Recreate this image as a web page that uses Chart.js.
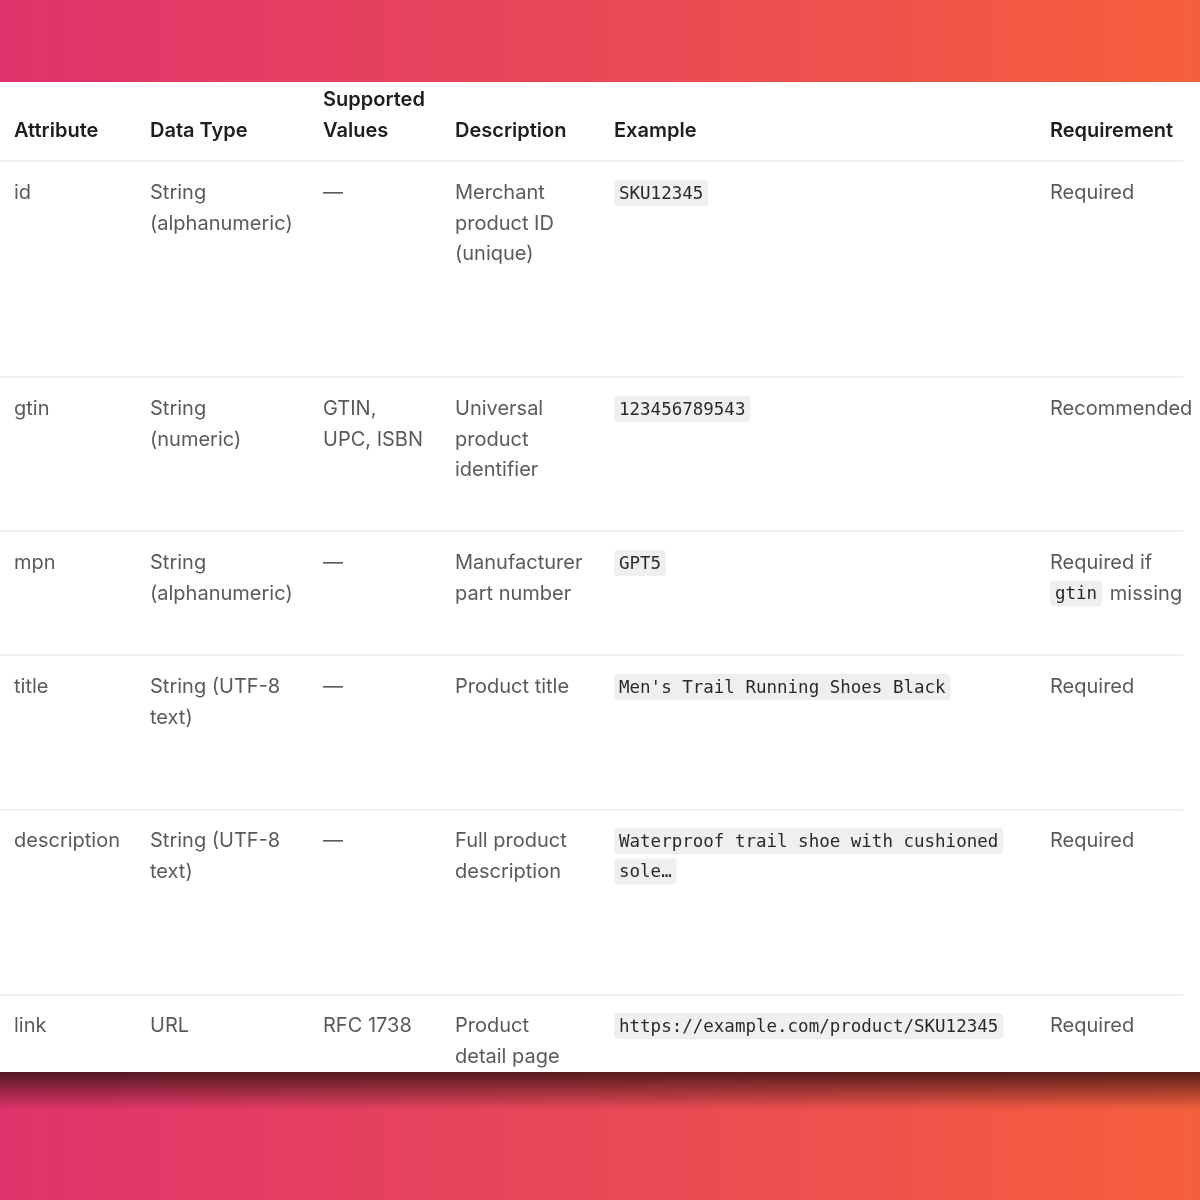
<!DOCTYPE html>
<html lang="en">
  <head>
    <meta charset="UTF-8" />
    <title>Product feed attributes</title>
    <script src="https://cdn.jsdelivr.net/npm/chart.js"></script>
    <style>
      body { margin: 0; background: #fff; }
      canvas { display: block; }
    </style>
  </head>
  <body>
    <canvas id="chart" width="1200" height="1200"></canvas>
    <script>
      // table content
      const headers = [['Attribute'], ['Data Type'], ['Supported', 'Values'], ['Description'], ['Example'], ['Requirement']];
      const attributes = [['id'], ['gtin'], ['mpn'], ['title'], ['description'], ['link']];
      const dataTypes = [['String', '(alphanumeric)'], ['String', '(numeric)'], ['String', '(alphanumeric)'], ['String (UTF-8', 'text)'], ['String (UTF-8', 'text)'], ['URL']];
      const supportedValues = [['—'], ['GTIN,', 'UPC, ISBN'], ['—'], ['—'], ['—'], ['RFC 1738']];
      const descriptions = [['Merchant', 'product ID', '(unique)'], ['Universal', 'product', 'identifier'], ['Manufacturer', 'part number'], ['Product title'], ['Full product', 'description'], ['Product', 'detail page']];
      const examples = [['`SKU12345`'], ['`123456789543`'], ['`GPT5`'], ["`Men's Trail Running Shoes Black`"], ['`Waterproof trail shoe with cushioned`', '`sole…`'], ['`https://example.com/product/SKU12345`']];
      const requirements = [['Required'], ['Recommended'], ['Required if', '`gtin` missing'], ['Required'], ['Required'], ['Required']];

      // layout (page pixels)
      const colX = [14, 150, 323, 455, 614, 1050];
      const rowY = [193, 409, 563, 687, 841, 1026];
      const sepY = [161, 377, 531, 655, 810, 995];
      const lineH = 30.5;
      const columns = [attributes, dataTypes, supportedValues, descriptions, examples, requirements];

      const SANS = 'Inter, "Noto Sans", sans-serif';
      const MONO = '"DejaVu Sans Mono", monospace';

      function drawLine(ctx, text, x, y, bold) {
        const parts = text.split('`');
        let cx = x;
        parts.forEach((p, i) => {
          if (!p) return;
          const code = i % 2 === 1;
          if (code) {
            ctx.font = '17.5px ' + MONO;
            const w = ctx.measureText(p).width;
            if (cx > x) cx += 2;
            ctx.fillStyle = '#efefef';
            ctx.beginPath();
            ctx.roundRect(cx, y - 13, w + 10, 26, 4);
            ctx.fill();
            ctx.fillStyle = '#2a2a2a';
            ctx.fillText(p, cx + 5, y + 1);
            cx += w + 12;
          } else {
            ctx.font = (bold ? '600 ' : '') + '20px ' + SANS;
            ctx.fillStyle = bold ? '#1e1e1e' : '#5a5a5a';
            ctx.fillText(p, cx, y);
            cx += ctx.measureText(p).width;
          }
        });
      }

      const tablePlugin = {
        id: 'table',
        beforeDraw(chart) {
          const { ctx, scales } = chart;
          const X = (v) => scales.x.getPixelForValue(v);
          const Y = (v) => scales.y.getPixelForValue(v);
          ctx.save();
          // top band
          let g = ctx.createLinearGradient(0, 0, 1200, 0);
          g.addColorStop(0, '#e0336c');
          g.addColorStop(0.55, '#ea4a55');
          g.addColorStop(1, '#f5603c');
          ctx.fillStyle = g;
          ctx.fillRect(0, Y(0), 1200, Y(82) - Y(0));
          ctx.fillRect(0, Y(1072), 1200, Y(1200) - Y(1072));
          // shadow under panel
          const s = ctx.createLinearGradient(0, Y(1072), 0, Y(1110));
          s.addColorStop(0, 'rgba(60,20,20,0.85)');
          s.addColorStop(1, 'rgba(60,20,20,0)');
          ctx.fillStyle = s;
          ctx.fillRect(0, Y(1072), 1200, 38);

          // separators
          ctx.strokeStyle = '#ececec';
          ctx.lineWidth = 1.5;
          sepY.forEach((y) => {
            ctx.beginPath();
            ctx.moveTo(X(0), Y(y));
            ctx.lineTo(X(1183), Y(y));
            ctx.stroke();
          });

          ctx.textBaseline = 'middle';
          ctx.textAlign = 'left';
          headers.forEach((h, c) => {
            h.forEach((t, i) => drawLine(ctx, t, X(colX[c]), Y(131 - (h.length - 1 - i) * 31), true));
          });
          columns.forEach((col, c) => {
            col.forEach((cell, r) => {
              cell.forEach((t, i) => drawLine(ctx, t, X(colX[c]), Y(rowY[r] + i * lineH), false));
            });
          });
          ctx.restore();
        },
      };

      new Chart(document.getElementById('chart'), {
        type: 'scatter',
        data: { datasets: [{ data: [] }] },
        options: {
          responsive: false,
          animation: false,
          layout: { padding: 0 },
          plugins: { legend: { display: false }, tooltip: { enabled: false } },
          scales: {
            x: { type: 'linear', min: 0, max: 1200, display: false },
            y: { type: 'linear', min: 0, max: 1200, reverse: true, display: false },
          },
        },
        plugins: [tablePlugin],
      });
    </script>
  </body>
</html>
